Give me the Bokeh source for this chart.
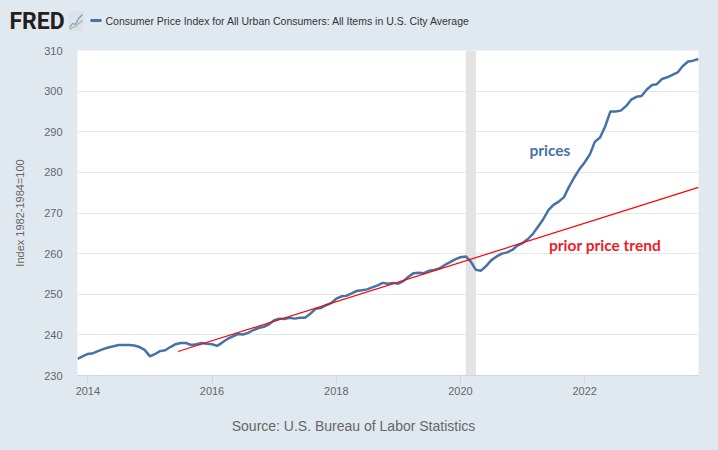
import pandas as pd
from bokeh.plotting import figure
from bokeh.layouts import column
from bokeh.models import Range1d, FixedTicker, DatetimeTickFormatter, BoxAnnotation, Label, ColumnDataSource
from bokeh.core.properties import value
from bokeh.embed import file_html
from bokeh.resources import INLINE

# ---- data ----
start_month = "2013-11-01"
cpi = [
    234.1, 234.7,
    235.3, 235.5, 236.0, 236.5, 236.9, 237.2, 237.5, 237.5, 237.5, 237.4, 237.0, 236.3,
    234.7, 235.3, 236.0, 236.2, 237.0, 237.7, 238.0, 238.0, 237.5, 237.7, 238.0, 237.8,
    237.7, 237.3, 238.1, 239.0, 239.6, 240.2, 240.1, 240.5, 241.2, 241.7, 242.0, 242.6,
    243.6, 244.0, 243.9, 244.2, 244.0, 244.2, 244.2, 245.2, 246.4, 246.6, 247.3, 247.8,
    248.9, 249.5, 249.6, 250.2, 250.8, 251.0, 251.2, 251.7, 252.2, 252.8, 252.6, 252.8,
    252.6, 253.3, 254.3, 255.2, 255.3, 255.2, 255.8, 256.0, 256.4, 257.2, 257.9, 258.6,
    259.1, 259.3, 258.1, 256.0, 255.8, 257.0, 258.4, 259.3, 260.0, 260.3, 260.9, 262.0,
    262.6, 263.6, 264.8, 266.6, 268.4, 270.7, 272.0, 272.8, 273.9, 276.5, 278.8, 280.8,
    282.5, 284.5, 287.5, 288.6, 291.3, 295.0, 295.0, 295.2, 296.3, 297.9, 298.6, 298.8,
    300.4, 301.5, 301.7, 303.0, 303.4, 304.0, 304.6, 306.2, 307.3, 307.5, 307.9,
]
dates = pd.date_range(start_month, periods=len(cpi), freq="MS")

trend_dates = ["2015-06-15", "2023-11-01"]
trend_values = [235.9, 276.3]

recession = ["2020-02-01", "2020-04-01"]
x_tick_years = [2014, 2016, 2018, 2020, 2022]
y_ticks = [230, 240, 250, 260, 270, 280, 290, 300, 310]

title_text = "Consumer Price Index for All Urban Consumers: All Items in U.S. City Average"
y_label = "Index 1982-1984=100"
source_text = "Source: U.S. Bureau of Labor Statistics"
prices_label = ("prices", "2021-02-10", 285.4)
trend_label = ("prior price trend", "2021-06-05", 262.2)


def ms(d):
    return pd.Timestamp(d).value / 1e6


BG = "#e1e9f0"
BLUE = "#4572a7"
GREY = "#666666"
W = 718


def strip(fig):
    fig.title.visible = False
    fig.background_fill_color = BG
    fig.border_fill_color = BG
    fig.outline_line_color = None
    fig.xgrid.visible = False
    fig.ygrid.visible = False
    fig.frame_align = False


# ---- header ----
hdr = figure(width=W, height=40, output_backend="svg", toolbar_location=None,
             x_range=Range1d(0, W), y_range=Range1d(40, 0),
             x_axis_location=None, y_axis_location=None, min_border=0)
strip(hdr)
hdr.text(x=[9], y=[21], text=["FRED"], text_font=value("Roboto"), text_font_style="bold",
         text_font_size="23px", text_color="#231f20", text_baseline="middle")
hdr.rect(x=[75.5], y=[20.5], width=15, height=20, fill_color="#dde2e8", line_color=None)
hdr.line([69, 72, 75, 78, 82], [27, 23, 24, 18, 14], line_color="#7a96bd", line_width=1.2)
hdr.line([69, 72, 75, 78, 82], [29, 27, 26, 23, 20], line_color="#a3b78a", line_width=1.2)
hdr.line([90, 101], [20, 20], line_color=BLUE, line_width=3)
hdr.text(x=[105], y=[20], text=[title_text],
         text_font=value("Liberation Sans"),
         text_font_size="10.5px", text_color="#333333", text_baseline="middle")

# ---- main chart ----
p = figure(width=W, height=360, x_axis_type="datetime", output_backend="svg",
           toolbar_location=None,
           x_range=Range1d(dates[0], dates[-1]), y_range=Range1d(y_ticks[0], y_ticks[-1]),
           min_border_left=77, min_border_right=20, min_border_top=10, min_border_bottom=25)
p.title.visible = False
p.background_fill_color = "white"
p.border_fill_color = BG
p.outline_line_color = None
p.frame_align = False

p.xaxis.ticker = FixedTicker(ticks=[ms(f"{y}-01-01") for y in x_tick_years])
p.xaxis.formatter = DatetimeTickFormatter(years="%Y", months="%Y", days="%Y")
p.xaxis.axis_line_color = "#ccd6eb"
p.xaxis.major_tick_line_color = "#ccd6eb"
p.xaxis.major_tick_out = 8
p.xaxis.major_tick_in = 0
p.xaxis.minor_tick_line_color = None
p.xaxis.major_label_standoff = 3
p.xaxis.major_label_text_font = "Liberation Sans"
p.xaxis.major_label_text_font_size = "11px"
p.xaxis.major_label_text_color = GREY

p.yaxis.ticker = FixedTicker(ticks=y_ticks)
p.yaxis.axis_line_color = None
p.yaxis.major_tick_line_color = None
p.yaxis.minor_tick_line_color = None
p.yaxis.major_tick_out = 0
p.yaxis.major_tick_in = 0
p.yaxis.major_label_standoff = 15
p.yaxis.major_label_text_font = "Liberation Sans"
p.yaxis.major_label_text_font_size = "11px"
p.yaxis.major_label_text_color = GREY
p.yaxis.axis_label = y_label
p.yaxis.axis_label_text_font = "Liberation Sans"
p.yaxis.axis_label_text_font_size = "11px"
p.yaxis.axis_label_text_font_style = "normal"
p.yaxis.axis_label_text_color = GREY
p.yaxis.axis_label_standoff = 15

p.xgrid.visible = False
p.ygrid.grid_line_color = "#e6e6e6"

p.add_layout(BoxAnnotation(left=ms(recession[0]), right=ms(recession[1]),
                           fill_color="#e3e3e3", fill_alpha=1, line_color=None, level="underlay"))

src = ColumnDataSource(dict(date=dates, cpi=cpi))
p.line("date", "cpi", source=src, line_color=BLUE, line_width=2.5)
p.line([pd.Timestamp(d) for d in trend_dates], trend_values, line_color="#ff0000", line_width=1.2)

p.add_layout(Label(x=ms(prices_label[1]), y=prices_label[2], text=prices_label[0],
                   text_font="Lato", text_font_style="bold", text_font_size="15.5px",
                   text_color=BLUE, text_baseline="middle"))
p.add_layout(Label(x=ms(trend_label[1]), y=trend_label[2], text=trend_label[0],
                   text_font="Lato", text_font_style="bold", text_font_size="15.5px",
                   text_color="#ee1c25", text_baseline="middle"))

# ---- footer ----
ftr = figure(width=W, height=50, output_backend="svg", toolbar_location=None,
             x_range=Range1d(0, W), y_range=Range1d(50, 0),
             x_axis_location=None, y_axis_location=None, min_border=0)
strip(ftr)
ftr.text(x=[353], y=[25], text=[source_text], text_font=value("Liberation Sans"),
         text_font_size="14px", text_color=GREY, text_align="center", text_baseline="middle")

layout = column(hdr, p, ftr, spacing=0)
html = file_html(layout, INLINE)
html = html.replace("<head>", "<head><style>body{background:%s;}</style>" % BG, 1)
open("out.html", "w").write(html)
